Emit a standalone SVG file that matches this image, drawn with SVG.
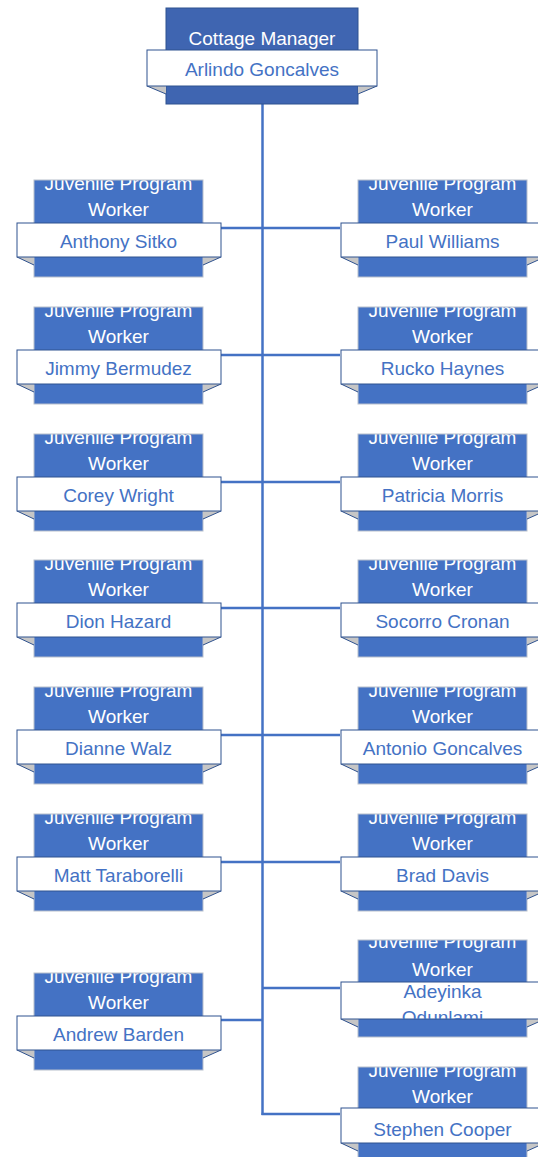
<svg xmlns="http://www.w3.org/2000/svg" width="538" height="1157" viewBox="0 0 538 1157">
<defs>
<style>
.bg{fill:#ffffff}
.blue{fill:#4472C4}
.bluestroke{fill:none;stroke:#b8bfcc;stroke-width:1}
.topblue{fill:#3F65B1;stroke:#2F528F;stroke-width:1}
.white{fill:#ffffff;stroke:#2F528F;stroke-width:1}
.fold{fill:#c6c6c6;stroke:none}
.foldline{fill:none;stroke:#2F528F;stroke-width:1}
.title{font-family:"Liberation Sans",Arial,sans-serif;font-size:19px;fill:#ffffff;text-anchor:middle}
.name{font-family:"Liberation Sans",Arial,sans-serif;font-size:19px;fill:#4472C4;text-anchor:middle}
.conn{fill:none;stroke:#4472C4;stroke-width:2.5}
</style>
<g id="worker">
<rect class="blue" x="0" y="0" width="169" height="97"/>
<text class="title" x="84.5" y="10">Juvenile Program</text>
<text class="title" x="84.5" y="35.5">Worker</text>
<rect class="bluestroke" x="0" y="0" width="169" height="97"/>
<polygon class="fold" points="-17,77 0,77 0,85"/>
<polyline class="foldline" points="-17,77 0,85"/>
<polygon class="fold" points="169,77 187,77 169,85"/>
<polyline class="foldline" points="187,77 169,85"/>
<rect class="white" x="-17" y="43" width="204" height="34"/>
</g>
<clipPath id="adeClip"><rect x="340" y="982" width="204" height="37"/></clipPath>
</defs>
<rect class="bg" x="0" y="0" width="538" height="1157"/>
<g id="connectors">
<line class="conn" x1="262.5" y1="104" x2="262.5" y2="1115"/>
<line class="conn" x1="221" y1="228" x2="340" y2="228"/>
<line class="conn" x1="221" y1="355" x2="340" y2="355"/>
<line class="conn" x1="221" y1="482" x2="340" y2="482"/>
<line class="conn" x1="221" y1="608" x2="340" y2="608"/>
<line class="conn" x1="221" y1="735" x2="340" y2="735"/>
<line class="conn" x1="221" y1="862" x2="340" y2="862"/>
<line class="conn" x1="262" y1="988" x2="340" y2="988"/>
<line class="conn" x1="221" y1="1020" x2="262" y2="1020"/>
<line class="conn" x1="261.5" y1="1114" x2="340" y2="1114"/>
</g>
<g id="cottage-manager">
<rect class="topblue" x="166" y="8" width="192" height="96"/>
<text class="title" x="262" y="45">Cottage Manager</text>
<polygon class="fold" points="147,86 166,86 166,94"/>
<polyline class="foldline" points="147,86 166,94"/>
<polygon class="fold" points="358,86 377,86 358,94"/>
<polyline class="foldline" points="377,86 358,94"/>
<rect class="white" x="147" y="50" width="230" height="36"/>
<text class="name" x="262" y="76">Arlindo Goncalves</text>
</g>
<g id="anthony-sitko"><use href="#worker" x="34" y="180"/><text class="name" x="118.5" y="247.5">Anthony Sitko</text></g>
<g id="paul-williams"><use href="#worker" x="358" y="180"/><text class="name" x="442.5" y="247.5">Paul Williams</text></g>
<g id="jimmy-bermudez"><use href="#worker" x="34" y="307"/><text class="name" x="118.5" y="374.5">Jimmy Bermudez</text></g>
<g id="rucko-haynes"><use href="#worker" x="358" y="307"/><text class="name" x="442.5" y="374.5">Rucko Haynes</text></g>
<g id="corey-wright"><use href="#worker" x="34" y="434"/><text class="name" x="118.5" y="501.5">Corey Wright</text></g>
<g id="patricia-morris"><use href="#worker" x="358" y="434"/><text class="name" x="442.5" y="501.5">Patricia Morris</text></g>
<g id="dion-hazard"><use href="#worker" x="34" y="560"/><text class="name" x="118.5" y="627.5">Dion Hazard</text></g>
<g id="socorro-cronan"><use href="#worker" x="358" y="560"/><text class="name" x="442.5" y="627.5">Socorro Cronan</text></g>
<g id="dianne-walz"><use href="#worker" x="34" y="687"/><text class="name" x="118.5" y="754.5">Dianne Walz</text></g>
<g id="antonio-goncalves"><use href="#worker" x="358" y="687"/><text class="name" x="442.5" y="754.5">Antonio Goncalves</text></g>
<g id="matt-taraborelli"><use href="#worker" x="34" y="814"/><text class="name" x="118.5" y="881.5">Matt Taraborelli</text></g>
<g id="brad-davis"><use href="#worker" x="358" y="814"/><text class="name" x="442.5" y="881.5">Brad Davis</text></g>
<g id="adeyinka-odunlami">
<rect class="blue" x="358" y="940" width="169" height="97"/>
<text class="title" x="442.5" y="948">Juvenile Program</text>
<text class="title" x="442.5" y="976">Worker</text>
<rect class="bluestroke" x="358" y="940" width="169" height="97"/>
<polygon class="fold" points="341,1019 358,1019 358,1027"/>
<polyline class="foldline" points="341,1019 358,1027"/>
<polygon class="fold" points="527,1019 545,1019 527,1027"/>
<polyline class="foldline" points="545,1019 527,1027"/>
<rect class="white" x="341" y="982" width="204" height="37"/>
<g clip-path="url(#adeClip)">
<text class="name" x="442.5" y="998">Adeyinka</text>
<text class="name" x="442.5" y="1024">Odunlami</text>
</g>
</g>
<g id="andrew-barden"><use href="#worker" x="34" y="973"/><text class="name" x="118.5" y="1040.5">Andrew Barden</text></g>
<g id="stephen-cooper">
<rect class="blue" x="358" y="1067" width="169" height="97"/>
<text class="title" x="442.5" y="1077">Juvenile Program</text>
<text class="title" x="442.5" y="1103">Worker</text>
<rect class="bluestroke" x="358" y="1067" width="169" height="97"/>
<polygon class="fold" points="341,1143 358,1143 358,1151"/>
<polyline class="foldline" points="341,1143 358,1151"/>
<polygon class="fold" points="527,1143 545,1143 527,1151"/>
<polyline class="foldline" points="545,1143 527,1151"/>
<rect class="white" x="341" y="1108" width="204" height="35"/>
<text class="name" x="442.5" y="1136">Stephen Cooper</text>
</g>
</svg>
